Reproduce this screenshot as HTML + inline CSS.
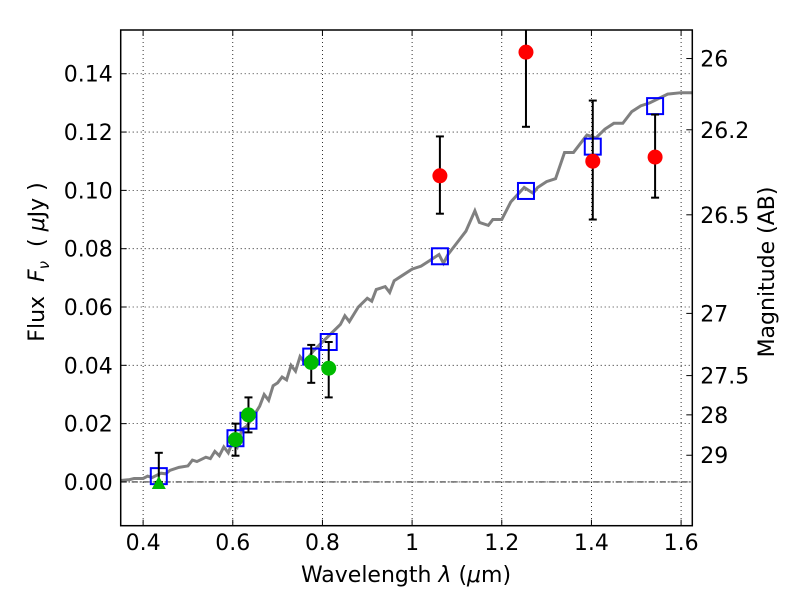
<!DOCTYPE html>
<html><head><meta charset="utf-8"><style>
html,body{margin:0;padding:0;background:#fff;}
svg text{font-family:"DejaVu Sans","Liberation Sans",sans-serif;fill:#000;}
</style></head><body>
<svg id="chart" width="800" height="600" xmlns="http://www.w3.org/2000/svg">
<rect width="800" height="600" fill="#fff"/>
<g id="grid"></g>
<g id="marks"></g>
<g id="axes"></g>
</svg>
<script>
const xTicks=[0.4,0.6,0.8,1,1.2,1.4,1.6];
const xTickLabels=["0.4","0.6","0.8","1","1.2","1.4","1.6"];
const yTicks=[0,0.02,0.04,0.06,0.08,0.1,0.12,0.14];
const yTickLabels=["0.00","0.02","0.04","0.06","0.08","0.10","0.12","0.14"];
const magTicks=[26,26.2,26.5,27,27.5,28,29];
const magTickLabels=["26","26.2","26.5","27","27.5","28","29"];
const modelWave=[0.35,0.37,0.38,0.40,0.41,0.42,0.44,0.45,0.46,0.48,0.50,0.51,0.52,0.54,0.55,0.56,0.57,0.58,0.59,0.60,0.61,0.62,0.63,0.64,0.66,0.67,0.68,0.69,0.70,0.71,0.72,0.73,0.74,0.75,0.76,0.78,0.80,0.82,0.84,0.85,0.86,0.88,0.90,0.91,0.92,0.94,0.95,0.96,0.98,1.0,1.02,1.04,1.06,1.07,1.08,1.10,1.12,1.14,1.15,1.17,1.18,1.20,1.22,1.25,1.27,1.28,1.30,1.32,1.34,1.36,1.38,1.39,1.41,1.43,1.45,1.47,1.49,1.51,1.53,1.57,1.60,1.625];
const modelFlux=[0.0005,0.0008,0.0012,0.0012,0.002,0.0015,0.003,0.0028,0.004,0.005,0.0055,0.0075,0.007,0.0085,0.008,0.0105,0.009,0.012,0.010,0.014,0.012,0.018,0.019,0.021,0.026,0.030,0.028,0.033,0.034,0.036,0.035,0.040,0.038,0.043,0.041,0.045,0.048,0.051,0.054,0.057,0.055,0.060,0.063,0.062,0.066,0.067,0.065,0.069,0.071,0.073,0.074,0.076,0.078,0.075,0.078,0.082,0.086,0.093,0.089,0.088,0.090,0.090,0.096,0.101,0.099,0.101,0.103,0.104,0.113,0.113,0.117,0.119,0.118,0.121,0.123,0.123,0.127,0.129,0.130,0.133,0.1335,0.1335];
const sqWave=[0.435,0.606,0.635,0.775,0.814,1.062,1.254,1.403,1.542];
const sqFlux=[0.002,0.015,0.021,0.043,0.048,0.0774,0.0998,0.115,0.1289];
const redWave=[1.062,1.254,1.403,1.542];
const redFlux=[0.105,0.1474,0.110,0.1114];
const redHi=[0.1185,0.165,0.1308,0.126];
const redLo=[0.092,0.1218,0.090,0.0975];
const greenWave=[0.606,0.635,0.775,0.814];
const greenFlux=[0.0145,0.023,0.041,0.039];
const greenHi=[0.020,0.029,0.047,0.048];
const greenLo=[0.009,0.017,0.034,0.029];
const triWave=[0.435];
const triFlux=[0.0];
const triHi=[0.010];

const L=120.7,R=692.3,T=30,B=525.7,X0=0.35,X1=1.625,Y0=-0.015,Y1=0.155;
const sx=v=>L+(v-X0)/(X1-X0)*(R-L);
const sy=v=>B-(v-Y0)/(Y1-Y0)*(B-T);
const magF=m=>Math.pow(10,(23.905-m)/2.5);
const NS="http://www.w3.org/2000/svg";
function mk(tag,attrs,parent){const e=document.createElementNS(NS,tag);for(const k in attrs)e.setAttribute(k,attrs[k]);parent.appendChild(e);return e;}
const grid=document.getElementById('grid'),marks=document.getElementById('marks'),axes=document.getElementById('axes');

xTicks.forEach((t,i)=>{
 const g=mk('line',{x1:sx(t),x2:sx(t),y1:T,y2:B,stroke:'#000','stroke-width':0.8,'stroke-dasharray':'1,3'},grid);
 
 
 mk('line',{x1:sx(t),x2:sx(t),y1:B,y2:B-6,stroke:'#000'},axes);
 mk('line',{x1:sx(t),x2:sx(t),y1:T,y2:T+6,stroke:'#000'},axes);
 const tx=mk('text',{x:sx(t),y:550,'font-size':22,'text-anchor':'middle'},axes);
 tx.textContent=xTickLabels[i];
 
 
});
yTicks.forEach((t,i)=>{
 const g=mk('line',{x1:L,x2:R,y1:sy(t),y2:sy(t),stroke:'#000','stroke-width':0.8,'stroke-dasharray':'1,3'},grid);
 
 
 mk('line',{x1:L,x2:L+6,y1:sy(t),y2:sy(t),stroke:'#000'},axes);
 const tx=mk('text',{x:L-8,y:sy(t)+8,'font-size':22,'text-anchor':'end'},axes);
 tx.textContent=yTickLabels[i];
 
 
});
const zl=mk('line',{x1:L,x2:R,y1:sy(0),y2:sy(0),stroke:'#000','stroke-width':0.8,'stroke-dasharray':'6,2,1,2'},grid);


magTicks.forEach((m,i)=>{
 const y=sy(magF(m));
 mk('line',{x1:R,x2:R-6,y1:y,y2:y,stroke:'#000'},axes);
 const tx=mk('text',{x:R+8,y:y+8,'font-size':22},axes);
 tx.textContent=magTickLabels[i];
 
 
});

const pl=mk('polyline',{points:modelWave.map((w,i)=>sx(w)+','+sy(modelFlux[i])).join(' '),fill:'none',stroke:'#808080','stroke-width':3},marks);



function errbar(x,lo,hi,name){
 const g=mk('g',{},marks);
 
 
 const yl=sy(lo),yh=Math.max(sy(hi),T);
 mk('line',{x1:sx(x),x2:sx(x),y1:yl,y2:yh,stroke:'#000','stroke-width':2},g);
 mk('line',{x1:sx(x)-4,x2:sx(x)+4,y1:yl,y2:yl,stroke:'#000','stroke-width':2},g);
 if(sy(hi)>T) mk('line',{x1:sx(x)-4,x2:sx(x)+4,y1:yh,y2:yh,stroke:'#000','stroke-width':2},g);
}
sqWave.forEach((w,i)=>{
 const r=mk('rect',{x:sx(w)-8,y:sy(sqFlux[i])-8,width:16,height:16,fill:'none',stroke:'#0000ff','stroke-width':2},marks);
 
 
});
triWave.forEach((w,i)=>{
 errbar(w,triFlux[i],triHi[i],'upper-limit-errorbar');
 const x=sx(w),y=sy(triFlux[i]);
 const p=mk('polygon',{points:`${x},${y-6} ${x-7},${y+7} ${x+7},${y+7}`,fill:'#00bb00'},marks);
 
 
});
greenWave.forEach((w,i)=>{
 errbar(w,greenLo[i],greenHi[i],'green-errorbar');
 const c=mk('circle',{cx:sx(w),cy:sy(greenFlux[i]),r:7.5,fill:'#00bb00'},marks);
 
 
});
redWave.forEach((w,i)=>{
 errbar(w,redLo[i],redHi[i],'red-errorbar');
 const c=mk('circle',{cx:sx(w),cy:sy(redFlux[i]),r:7.5,fill:'#ff0000'},marks);
 
 
});

const fr=mk('rect',{x:L,y:T,width:R-L,height:B-T,fill:'none',stroke:'#000','stroke-width':1.5},axes);


</script>
<svg style="position:absolute;left:0;top:0" width="800" height="600" xmlns="http://www.w3.org/2000/svg">
<text x="406" y="582" font-size="22" text-anchor="middle">Wavelength  <tspan font-style="italic">λ</tspan> (<tspan font-style="italic">μ</tspan>m)</text>
<text x="0" y="0" font-size="22" text-anchor="middle" transform="translate(44,262) rotate(-90)" xml:space="preserve">Flux  <tspan font-style="italic">F</tspan><tspan font-style="italic" font-size="15" dy="5">ν</tspan><tspan dy="-5">  ( </tspan><tspan font-style="italic">μ</tspan>Jy )</text>
<text x="0" y="0" font-size="22" text-anchor="middle" transform="translate(774,272) rotate(-90)">Magnitude (AB)</text>
</svg>
</body></html>
